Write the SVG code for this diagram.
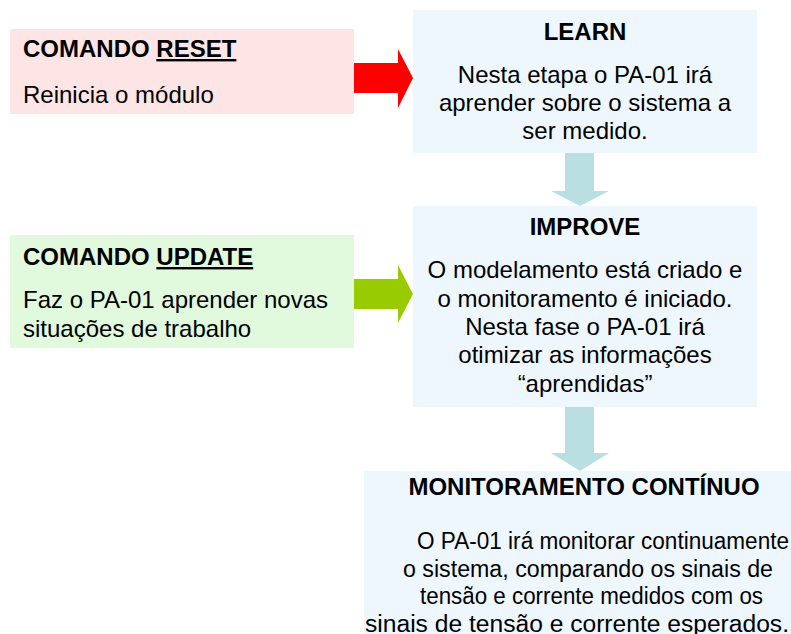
<svg xmlns="http://www.w3.org/2000/svg" width="791" height="634" viewBox="0 0 791 634">
<style>
text{font-family:"Liberation Sans",Arial,sans-serif;font-size:24px;fill:#000}
.t{font-weight:bold}
.c{text-anchor:middle}
.blue{fill:#eff7fe}
.down{fill:#badfe3}
.m{font-size:23.5px}
</style>
<rect width="791" height="634" fill="#ffffff"/>
<g id="connectors">
<polygon points="354,63 398,63 398,49 413,78 398,108 398,93 354,93" fill="#ff0000"/>
<polygon points="354,279 398,279 398,265 413,294 398,323 398,309 354,309" fill="#99cc00"/>
<polygon class="down" points="565,152 594,152 594,191 609,191 580,206 551,191 565,191"/>
<polygon class="down" points="565,407 594,407 594,453 609,453 580,471 551,453 565,453"/>
</g>
<g id="reset">
<rect x="10" y="29" width="344" height="85" fill="#fde5e5"/>
<text class="t" x="23" y="57">COMANDO <tspan text-decoration="underline">RESET</tspan></text>
<text x="23" y="103">Reinicia o módulo</text>
</g>
<g id="update">
<rect x="10" y="235" width="344" height="113" fill="#e1f9dc"/>
<text class="t" x="23" y="265">COMANDO <tspan text-decoration="underline">UPDATE</tspan></text>
<text x="23" y="308">Faz o PA-01 aprender novas</text>
<text x="23" y="337">situações de trabalho</text>
</g>
<g id="learn">
<rect class="blue" x="413" y="10" width="344" height="143"/>
<text class="t c" x="585" y="40">LEARN</text>
<text class="c" x="585" y="83">Nesta etapa o PA-01 irá</text>
<text class="c" x="585" y="111">aprender sobre o sistema a</text>
<text class="c" x="585" y="139">ser medido.</text>
</g>
<g id="improve">
<rect class="blue" x="413" y="206" width="344" height="201"/>
<text class="t c" x="585" y="235">IMPROVE</text>
<text class="c" x="585" y="278">O modelamento está criado e</text>
<text class="c" x="585" y="307">o monitoramento é iniciado.</text>
<text class="c" x="585" y="335">Nesta fase o PA-01 irá</text>
<text class="c" x="585" y="363">otimizar as informações</text>
<text class="c" x="585" y="392">“aprendidas”</text>
</g>
<g id="monitoramento">
<rect class="blue" x="364" y="471" width="427" height="163"/>
<text class="t c" x="584" y="495">MONITORAMENTO CONTÍNUO</text>
<text class="m" x="417" y="549" textLength="372" lengthAdjust="spacingAndGlyphs">O PA-01 irá monitorar continuamente</text>
<text class="m" x="403" y="577" textLength="370" lengthAdjust="spacingAndGlyphs">o sistema, comparando os sinais de</text>
<text class="m" x="420" y="604" textLength="343" lengthAdjust="spacingAndGlyphs">tensão e corrente medidos com os</text>
<text class="m" x="365" y="632" textLength="424" lengthAdjust="spacingAndGlyphs">sinais de tensão e corrente esperados.</text>
</g>
</svg>
